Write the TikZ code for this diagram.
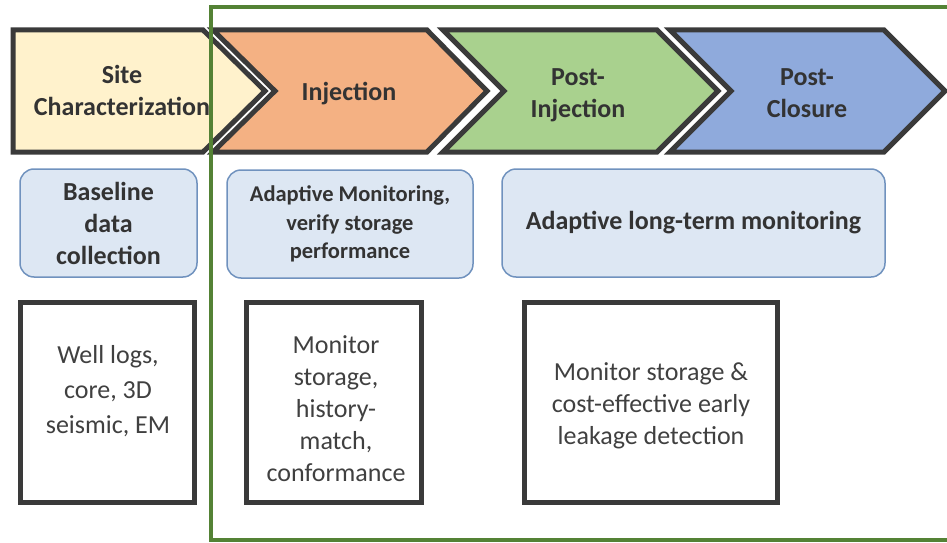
\documentclass[tikz,border=0pt]{standalone}
\usepackage{fontspec}
\setmainfont{Carlito}
\usetikzlibrary{positioning}
\definecolor{edgegray}{HTML}{3A3A3A}
\definecolor{headgray}{HTML}{333333}
\definecolor{bodygray}{HTML}{404040}
\definecolor{sitefill}{HTML}{FFF2CC}
\definecolor{injfill}{HTML}{F4B183}
\definecolor{postfill}{HTML}{A9D18E}
\definecolor{closefill}{HTML}{8FAADC}
\definecolor{goalfill}{HTML}{DDE7F3}
\definecolor{goalblue}{HTML}{7092BE}
\definecolor{framegreen}{HTML}{548235}
\tikzset{
	stage/.style={draw=edgegray,line width=5pt,line join=miter},
	stagetext/.style={font=\fontsize{26}{32}\selectfont\bfseries,text=headgray,align=center},
	goalbox/.style={draw=goalblue,fill=goalfill,line width=1.5pt,rounded corners=14pt,inner sep=0pt,
		font=\fontsize{26}{32}\selectfont\bfseries,text=headgray,align=center},
	taskbox/.style={draw=edgegray,line width=5pt,inner sep=0pt},
	tasktext/.style={font=\fontsize{26}{32}\selectfont,text=bodygray,align=center},
}
\begin{document}
\begin{tikzpicture}[x=1pt,y=-1pt]
		\useasboundingbox (0,0) rectangle (947,543);
		\filldraw[stage,fill=sitefill] (13,30) -- (203,30) -- (265,91) -- (203,152) -- (13,152) -- cycle;
		\filldraw[stage,fill=injfill] (213,30) -- (427,30) -- (487,91) -- (427,152) -- (213,152) -- (275,91) -- cycle;
		\filldraw[stage,fill=postfill] (443,30) -- (657,30) -- (718,91) -- (657,152) -- (443,152) -- (504,91) -- cycle;
		\filldraw[stage,fill=closefill] (670,30) -- (884,30) -- (945,91) -- (884,152) -- (670,152) -- (731,91) -- cycle;
		\node[stagetext] (site) at (122,90) {Site\\Characterization};
		\node[stagetext] (inject) at (349,94) {Injection};
		\node[stagetext] (postinj) at (578,95) {Post-\\Injection};
		\node[stagetext] (postclose) at (807,93) {Post-\\Closure};
		\node[goalbox,minimum width=177,minimum height=108] (baseline) at (108.5,223) {Baseline\\data\\collection};
		\node[goalbox,minimum width=246,minimum height=108,font=\fontsize{22.5}{28.5}\selectfont\bfseries] (adaptmon) at (350,224) {Adaptive Monitoring,\\verify storage\\performance};
		\node[goalbox,minimum width=383,minimum height=108] (longterm) at (693.5,223) {Adaptive long-term monitoring};
		\node[taskbox,minimum width=174,minimum height=200] (wellbox) at (107.5,402.5) {};
		\node[taskbox,minimum width=175,minimum height=200] (monbox) at (334,402.5) {};
		\node[taskbox,minimum width=253,minimum height=200] (leakbox) at (651,402.5) {};
		\node[tasktext,font=\fontsize{26}{35}\selectfont] (welllogs) at (108,391) {Well logs,\\core, 3D\\seismic, EM};
		\node[tasktext] (monitor) at (336,409) {Monitor\\storage,\\history-\\match,\\conformance};
		\node[tasktext] (leakage) at (651,406) {Monitor storage \&\\cost-effective early\\leakage detection};
		\draw[framegreen,line width=4pt] (960,7) -- (211,7) -- (211,540) -- (960,540);
	\end{tikzpicture}
\end{document}
